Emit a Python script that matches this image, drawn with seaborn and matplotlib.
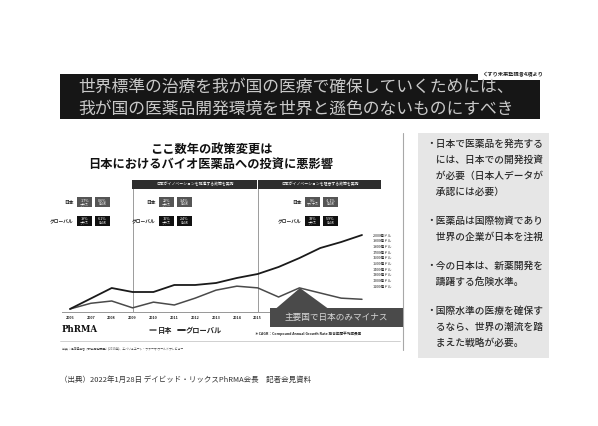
import matplotlib
matplotlib.use("Agg")
import matplotlib.pyplot as plt
import seaborn as sns
import pandas as pd
from matplotlib.patches import Rectangle, Polygon
from matplotlib.lines import Line2D

# ---- data ----
years = list(range(2006, 2021))
japan_invest = [0.92, 1.02, 1.06, 0.94, 1.04, 0.99, 1.11, 1.25, 1.32, 1.29,
                1.13, 1.29, 1.20, 1.11, 1.09]          # 兆円
global_invest = [702, 886, 1070, 1000, 1000, 1123, 1123, 1158, 1246, 1316,
                 1439, 1596, 1772, 1877, 2000]        # 億ドル
year_labels = ["2006", "2007", "2008", "2009", "2010", "2011", "2012", "2013",
               "2014", "2015", "", "", "", "", ""]
right_ticks = [1100, 1200, 1300, 1400, 1500, 1600, 1700, 1800, 1900, 2000]
right_tick_labels = [f"{v}億ドル" for v in right_ticks]
policy_breaks = [2009, 2015]
policy_headers = ["日本がイノベーションを推進する政策を実施",
                  "日本がイノベーションを阻害する政策を実施"]
jp_change = ["1.7%", "22%", "9%"]
jp_change_word = ["プラス", "プラス", "マイナス"]
jp_cagr = ["0.6%", "3.4%", "-1.1%"]
gl_change = ["19%", "16%", "33%"]
gl_change_word = ["プラス", "プラス", "プラス"]
gl_cagr = ["6.1%", "2.4%", "5.9%"]
bullets = [
    ["・日本で医薬品を発売する", "　には、日本での開発投資", "　が必要（日本人データが", "　承認には必要）"],
    ["・医薬品は国際物資であり", "　世界の企業が日本を注視"],
    ["・今の日本は、新薬開発を", "　躊躇する危険水準。"],
    ["・国際水準の医療を確保す", "　るなら、世界の潮流を踏", "　まえた戦略が必要。"],
]

sns.set_theme(style="white")
plt.rcParams["font.family"] = ["Noto Sans CJK JP", "DejaVu Sans"]

W, H = 598, 426
fig = plt.figure(figsize=(W / 100, H / 100), dpi=100)
fig.patch.set_facecolor("white")


def fx(x):
    return x / W


def fy(y):
    return 1 - y / H


def box(x0, y0, x1, y1, color, z=5, **kw):
    r = Rectangle((fx(x0), fy(y1)), (x1 - x0) / W, (y1 - y0) / H,
                  transform=fig.transFigure, facecolor=color, edgecolor="none",
                  zorder=z, **kw)
    fig.add_artist(r)
    return r


def text(x, y, s, z=6, **kw):
    t = fig.text(fx(x), fy(y), s, zorder=z, **kw)
    return t


# ---- banner ----
box(60, 74, 540, 119, "#161616", z=2)
text(296, 87, "世界標準の治療を我が国の医療で確保していくためには、",
     ha="center", va="center", fontsize=12.1, color="#c9c9c9")
text(296, 109, "我が国の医薬品開発環境を世界と遜色のないものにすべき",
     ha="center", va="center", fontsize=12.1, color="#c9c9c9")
box(478, 69, 549, 80, "white", z=3)
text(513, 74.5, "くすり未来塾提言4項より", ha="center", va="center",
     fontsize=3.8, color="#222222", weight="bold")

# ---- chart title ----
text(211, 149, "ここ数年の政策変更は", ha="center", va="center",
     fontsize=8.8, weight="bold", color="#111111")
text(211, 164, "日本におけるバイオ医薬品への投資に悪影響", ha="center", va="center",
     fontsize=8.8, weight="bold", color="#111111")

# ---- line chart ----
x_left, x_right, y_top, y_bot = 62, 370, 188, 312
ax = fig.add_axes([fx(x_left), fy(y_bot), (x_right - x_left) / W, (y_bot - y_top) / H])
ax2 = ax.twinx()
px_per_year = (362 - 70) / 14
ax.set_xlim(2006 - (70 - x_left) / px_per_year, 2006 + (x_right - 70) / px_per_year)

df_jp = pd.DataFrame({"year": years, "value": japan_invest})
df_gl = pd.DataFrame({"year": years, "value": global_invest})
sns.lineplot(data=df_jp, x="year", y="value", ax=ax, color="#4a4a4a", lw=1.1)
sns.lineplot(data=df_gl, x="year", y="value", ax=ax2, color="#1a1a1a", lw=1.3)

ax.set_ylim(0.867, 3.042)
ax2.set_ylim(649, 2825)
ax.set_yticks([])
ax2.set_yticks(right_ticks)
ax2.set_yticklabels(right_tick_labels)
ax2.tick_params(axis="y", length=0, pad=2, labelsize=2.7, labelcolor="#222222")
ax.set_xticks(years)
ax.set_xticklabels(year_labels)
ax.tick_params(axis="x", length=0, pad=3, labelsize=2.7, labelcolor="#222222")
for lab in ax.get_xticklabels():
    lab.set_fontweight("bold")
for a in (ax, ax2):
    a.set_xlabel("")
    a.set_ylabel("")
    a.patch.set_alpha(0)
    for side in ("top", "left", "right"):
        a.spines[side].set_visible(False)
    a.spines["bottom"].set_color("#9a9a9a")
    a.spines["bottom"].set_linewidth(0.7)
for b in policy_breaks:
    ax.axvline(b, color="#8c8c8c", lw=0.6, zorder=0)

# policy header bars
hx = [132, 257.5, 382]
for i, h in enumerate(policy_headers):
    box(hx[i], 180, hx[i + 1] - 0.8, 188.5, "#2e2e2e", z=4)
    text((hx[i] + hx[i + 1]) / 2, 184.3, h, ha="center", va="center",
         fontsize=2.8, color="white")

# period stat boxes
box_x = [77, 159, 305]
bw, gap = 15, 3
for i in range(3):
    x0 = box_x[i]
    rows = [("日本", "#555555", jp_change[i], jp_change_word[i], jp_cagr[i], 197.5),
            ("グローバル", "#111111", gl_change[i], gl_change_word[i], gl_cagr[i], 216)]
    for label, col, chg, word, cagr, yy in rows:
        text(x0 - 3, yy + 4.7, label, ha="right", va="center",
             fontsize=3.4, weight="bold", color="#222222")
        for k, (v, sub) in enumerate([(chg, word), (cagr, "CAGR")]):
            bx = x0 + k * (bw + gap)
            box(bx, yy, bx + bw, yy + 9.5, col, z=4)
            text(bx + bw / 2, yy + 3.2, v, ha="center", va="center",
                 fontsize=2.7, color="white")
            text(bx + bw / 2, yy + 6.8, sub, ha="center", va="center",
                 fontsize=2.2, color="white")

# callout
box(270, 308, 403, 327, "#4a4a4a", z=7)
fig.add_artist(Polygon([(fx(300), fy(288)), (fx(276), fy(308.5)), (fx(328), fy(308.5))],
                       closed=True, transform=fig.transFigure, facecolor="#4a4a4a",
                       edgecolor="none", zorder=7))
text(336, 317.5, "主要国で日本のみマイナス", ha="center", va="center",
     fontsize=6.2, color="#d8d8d8", z=8)

# legend, logo and notes
handles = [Line2D([], [], color="#4a4a4a", lw=1.1),
           Line2D([], [], color="#1a1a1a", lw=1.3)]
fig.legend(handles, ["日本", "グローバル"], loc="center", ncol=2,
           bbox_to_anchor=(fx(186), fy(330)), frameon=False,
           handlelength=0.9, handletextpad=0.2, columnspacing=0.8,
           prop={"weight": "bold", "size": 5.2})
text(62, 329, "PhRMA", ha="left", va="center", fontsize=6.2, weight="bold",
     color="#111111", family=["DejaVu Serif"])
text(255, 334, "＊CAGR：Compound Annual Growth Rate 複合年間平均成長率",
     ha="left", va="center", fontsize=2.6, weight="bold", color="#222222")
fig.add_artist(Line2D([fx(60), fx(400)], [fy(341), fy(341)], color="#bdbdbd",
                      lw=0.5, transform=fig.transFigure))
text(62, 348, "出典：経済産業省「研究開発調査」(2019年)、エバリュエート・ファーマ ワールドプレビュー",
     ha="left", va="center", fontsize=2.1, color="#444444")
text(60, 380, "（出典）2022年1月28日 デイビッド・リックスPhRMA会長　記者会見資料",
     ha="left", va="center", fontsize=5.4, color="#333333")

# right-hand message panel
fig.add_artist(Line2D([fx(403), fx(403)], [fy(133), fy(350)], color="#a8a8a8",
                      lw=0.8, transform=fig.transFigure, zorder=1))
box(418, 133, 549, 358, "#e6e6e6", z=1)
y = 144
for group in bullets:
    for line in group:
        text(426, y, line, ha="left", va="center", fontsize=7.0,
             color="#2a2a2a", weight="medium")
        y += 16
    y += 13

fig.savefig("out.png", dpi=100, facecolor="white")
